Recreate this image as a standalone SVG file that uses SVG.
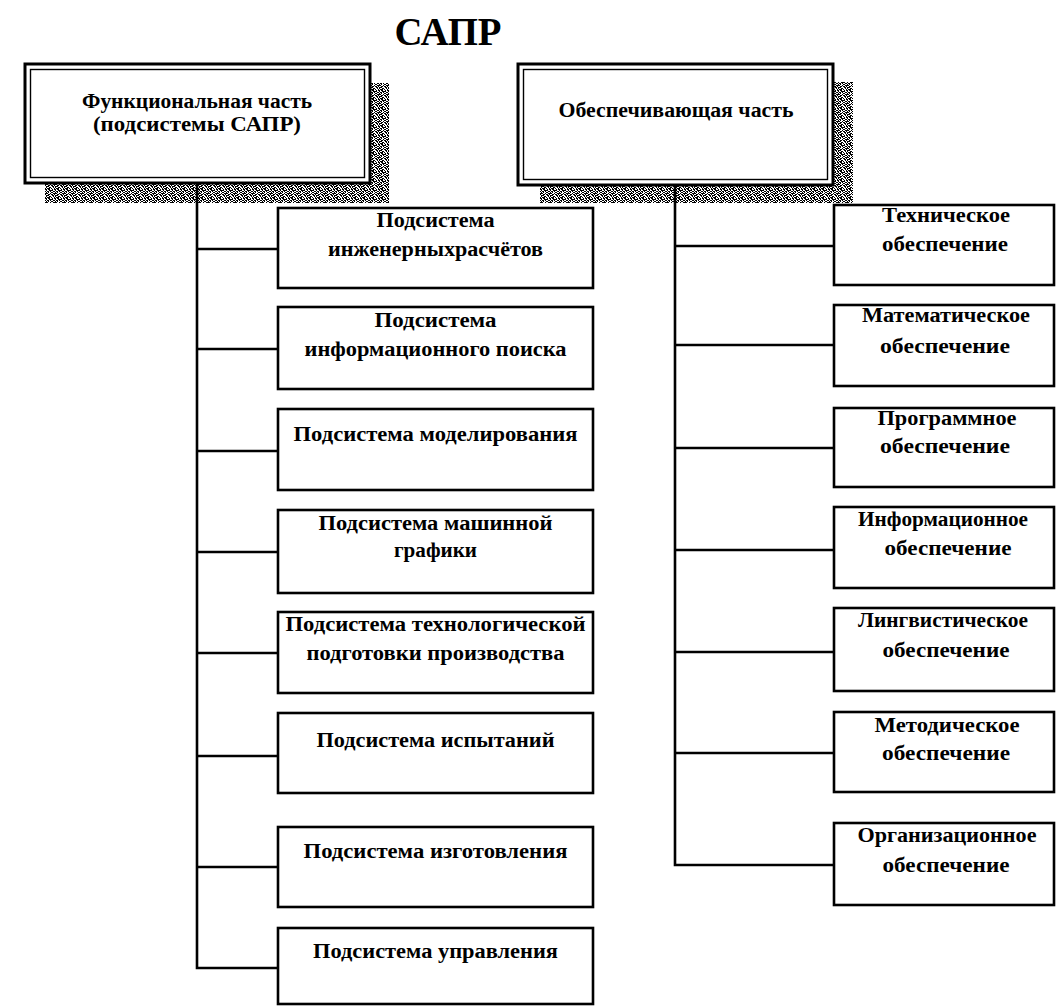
<svg xmlns="http://www.w3.org/2000/svg" width="1056" height="1007" viewBox="0 0 1056 1007">
<style>
.box{fill:#fff;stroke:#000;stroke-width:2.6}
.outer{fill:#fff;stroke:#000;stroke-width:3}
.inner{fill:none;stroke:#000;stroke-width:1.4}
.conn{stroke:#000;stroke-width:2.6;fill:none}
.t{font-family:"Liberation Serif","Times New Roman",serif;font-weight:bold;font-size:20px;text-anchor:middle;fill:#000}
.title{font-family:"Liberation Serif","Times New Roman",serif;font-weight:bold;font-size:39px;text-anchor:middle;fill:#000}
.shadow{fill:url(#stip)}
</style>
<defs>
<pattern id="stip" width="9" height="9" patternUnits="userSpaceOnUse">
<rect width="9" height="9" fill="#fff"/>
<path fill="#000" d="M0 0h2v1h-2z M3 0h2v1h-2z M7 0h1v2h-1z M1 1h1v1h-1z M4 1h3v1h-3z M0 2h1v1h-1z M2 2h2v1h-2z M5 2h1v1h-1z M8 2h1v1h-1z M1 3h1v1h-1z M3 3h1v1h-1z M6 3h2v1h-2z M0 4h3v1h-3z M5 4h1v1h-1z M8 4h1v1h-1z M0 5h1v1h-1z M3 5h2v1h-2z M6 5h2v1h-2z M1 6h3v1h-3z M7 6h2v1h-2z M1 7h1v1h-1z M4 7h2v1h-2z M8 7h1v1h-1z M0 8h1v1h-1z M2 8h3v1h-3z M6 8h1v1h-1z"/>
</pattern>
</defs>

<text class="title" x="448" y="45" textLength="107" lengthAdjust="spacingAndGlyphs">САПР</text>

<g id="connectors">
<path class="conn" d="M197 183V968H278"/>
<path class="conn" d="M197 249H278M197 349H278M197 451H278M197 552H278M197 653H278M197 756H278M197 867H278"/>
<path class="conn" d="M675 185V865H834"/>
<path class="conn" d="M675 246H834M675 345H834M675 448H834M675 550H834M675 652H834M675 753H834"/>
</g>

<g id="func">
<rect class="shadow" x="370" y="83" width="19" height="120"/>
<rect class="shadow" x="45" y="184" width="325" height="19"/>
<path class="conn" d="M197 184V203"/>
<rect class="outer" x="25" y="64" width="345" height="119"/>
<rect class="inner" x="30.5" y="69.5" width="334" height="108"/>
<text class="t" x="197" y="108" font-size="18" textLength="230" lengthAdjust="spacingAndGlyphs">Функциональная часть</text>
<text class="t" x="197" y="131" font-size="18" textLength="208" lengthAdjust="spacingAndGlyphs">(подсистемы САПР)</text>
</g>

<g id="support">
<rect class="shadow" x="833" y="82" width="20" height="121"/>
<rect class="shadow" x="540" y="186" width="293" height="17"/>
<path class="conn" d="M675 186V203"/>
<rect class="outer" x="518" y="64" width="315" height="121"/>
<rect class="inner" x="523.5" y="69.5" width="304" height="110"/>
<text class="t" x="676" y="117" font-size="18" textLength="235" lengthAdjust="spacingAndGlyphs">Обеспечивающая часть</text>
</g>

<g id="f1"><rect class="box" x="278" y="208" width="315" height="80"/>
<text class="t" x="435.5" y="227" textLength="118" lengthAdjust="spacingAndGlyphs">Подсистема</text>
<text class="t" x="435.5" y="256" textLength="215" lengthAdjust="spacingAndGlyphs">инженерныхрасчётов</text></g>
<g id="f2"><rect class="box" x="278" y="307" width="315" height="82"/>
<text class="t" x="435.5" y="327" textLength="122" lengthAdjust="spacingAndGlyphs">Подсистема</text>
<text class="t" x="435.5" y="356" textLength="262" lengthAdjust="spacingAndGlyphs">информационного поиска</text></g>
<g id="f3"><rect class="box" x="278" y="409" width="315" height="81"/>
<text class="t" x="435.5" y="441" textLength="284" lengthAdjust="spacingAndGlyphs">Подсистема моделирования</text></g>
<g id="f4"><rect class="box" x="278" y="510" width="315" height="83"/>
<text class="t" x="435.5" y="530" textLength="234" lengthAdjust="spacingAndGlyphs">Подсистема машинной</text>
<text class="t" x="435.5" y="557" textLength="83" lengthAdjust="spacingAndGlyphs">графики</text></g>
<g id="f5"><rect class="box" x="278" y="612" width="315" height="81"/>
<text class="t" x="435.5" y="631" textLength="300" lengthAdjust="spacingAndGlyphs">Подсистема технологической</text>
<text class="t" x="435.5" y="660" textLength="258" lengthAdjust="spacingAndGlyphs">подготовки производства</text></g>
<g id="f6"><rect class="box" x="278" y="713" width="315" height="80"/>
<text class="t" x="435.5" y="747" textLength="238" lengthAdjust="spacingAndGlyphs">Подсистема испытаний</text></g>
<g id="f7"><rect class="box" x="278" y="827" width="315" height="80"/>
<text class="t" x="435.5" y="858" textLength="264" lengthAdjust="spacingAndGlyphs">Подсистема изготовления</text></g>
<g id="f8"><rect class="box" x="278" y="928" width="315" height="76"/>
<text class="t" x="435.5" y="958" textLength="245" lengthAdjust="spacingAndGlyphs">Подсистема управления</text></g>

<g id="s1"><rect class="box" x="834" y="205" width="220" height="80"/>
<text class="t" x="946" y="222" textLength="128" lengthAdjust="spacingAndGlyphs">Техническое</text>
<text class="t" x="945" y="251" textLength="126" lengthAdjust="spacingAndGlyphs">обеспечение</text></g>
<g id="s2"><rect class="box" x="834" y="305" width="220" height="81"/>
<text class="t" x="946" y="322" textLength="168" lengthAdjust="spacingAndGlyphs">Математическое</text>
<text class="t" x="945" y="353" textLength="130" lengthAdjust="spacingAndGlyphs">обеспечение</text></g>
<g id="s3"><rect class="box" x="834" y="408" width="220" height="79"/>
<text class="t" x="947" y="425" textLength="139" lengthAdjust="spacingAndGlyphs">Программное</text>
<text class="t" x="945" y="453" textLength="130" lengthAdjust="spacingAndGlyphs">обеспечение</text></g>
<g id="s4"><rect class="box" x="834" y="507" width="220" height="81"/>
<text class="t" x="943" y="526" textLength="170" lengthAdjust="spacingAndGlyphs">Информационное</text>
<text class="t" x="948" y="555" textLength="127" lengthAdjust="spacingAndGlyphs">обеспечение</text></g>
<g id="s5"><rect class="box" x="834" y="608" width="220" height="83"/>
<text class="t" x="943" y="627" textLength="170" lengthAdjust="spacingAndGlyphs">Лингвистическое</text>
<text class="t" x="946" y="657" textLength="127" lengthAdjust="spacingAndGlyphs">обеспечение</text></g>
<g id="s6"><rect class="box" x="834" y="712" width="220" height="80"/>
<text class="t" x="947" y="732" textLength="145" lengthAdjust="spacingAndGlyphs">Методическое</text>
<text class="t" x="946" y="760" textLength="128" lengthAdjust="spacingAndGlyphs">обеспечение</text></g>
<g id="s7"><rect class="box" x="834" y="823" width="220" height="82"/>
<text class="t" x="947" y="842" textLength="179" lengthAdjust="spacingAndGlyphs">Организационное</text>
<text class="t" x="946" y="872" textLength="127" lengthAdjust="spacingAndGlyphs">обеспечение</text></g>
</svg>
